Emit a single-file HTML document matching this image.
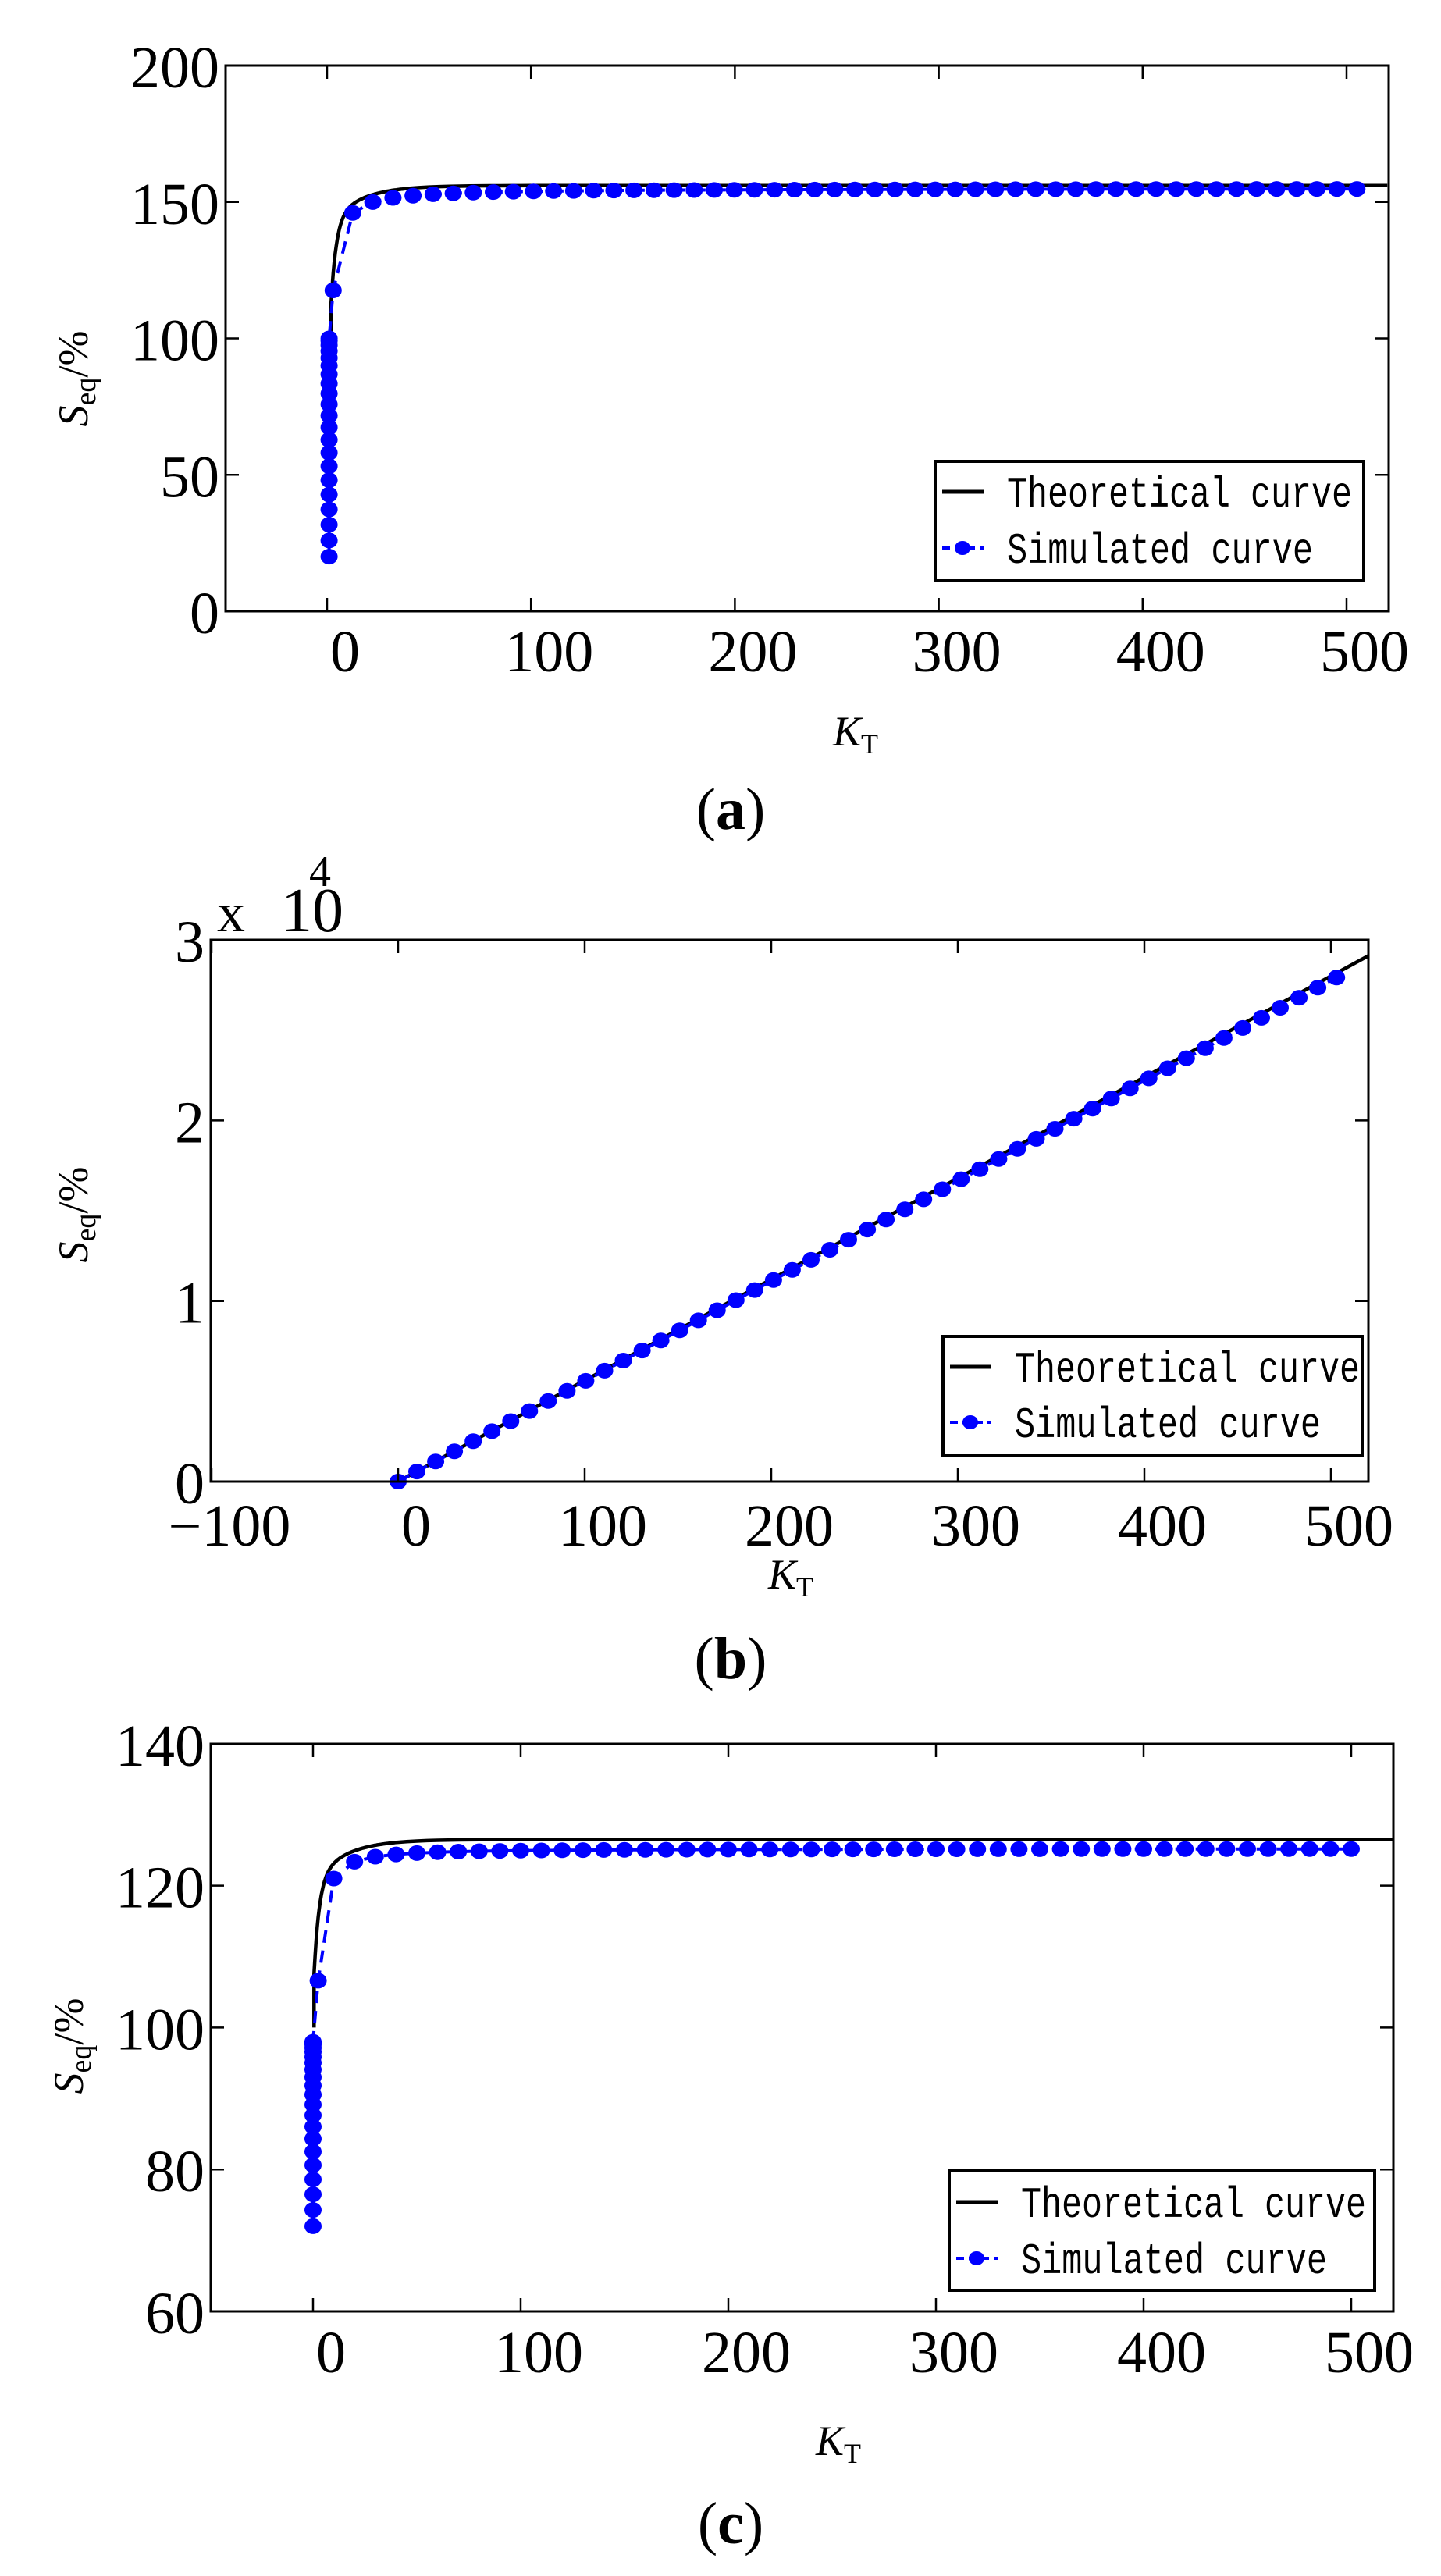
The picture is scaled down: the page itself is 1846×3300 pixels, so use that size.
<!DOCTYPE html>
<html><head><meta charset="utf-8"><style>
html,body{margin:0;padding:0;background:#fff;}
svg{display:block;}
text{font-family:"Liberation Serif",serif;fill:#000;}
.lg{font-family:"Liberation Mono",monospace;}
</style></head><body>
<svg id="s" width="1846" height="3300" xmlns="http://www.w3.org/2000/svg"></svg>
<script>
const S=document.getElementById('s');
let h='';
function ax(o){
 const X=k=>o.x0+k*o.xs, Y=v=>o.y0-(v-o.vb)*o.ys;
 let p=o.theo.map(([k,v])=>X(k).toFixed(1)+','+Y(v).toFixed(1)).join(' ');
 h+=`<polyline points="${p}" fill="none" stroke="#000" stroke-width="4.5"/>`;
 let q=o.sim.map(([k,v])=>X(k).toFixed(1)+','+Y(v).toFixed(1)).join(' ');
 h+=`<polyline points="${q}" fill="none" stroke="#0000ff" stroke-width="4" stroke-dasharray="16,10"/>`;
 for(const [k,v] of o.sim) h+=`<ellipse cx="${X(k).toFixed(1)}" cy="${Y(v).toFixed(1)}" rx="11" ry="10" fill="#0000ff"/>`;
 h+=`<rect x="${o.L}" y="${o.T}" width="${o.R-o.L}" height="${o.B-o.T}" fill="none" stroke="#000" stroke-width="3"/>`;
 for(const k of o.xt){const x=X(k);
  h+=`<line x1="${x}" y1="${o.B}" x2="${x}" y2="${o.B-17}" stroke="#000" stroke-width="2.5"/><line x1="${x}" y1="${o.T}" x2="${x}" y2="${o.T+17}" stroke="#000" stroke-width="2.5"/>`;
  h+=`<text x="${x+23}" y="${o.xly}" font-size="76" text-anchor="middle">${k<0?'\u2212'+(-k):k}</text>`;}
 for(const [v,lab] of o.yt){const y=Y(v);
  if(y>o.T+2&&y<o.B-2) h+=`<line x1="${o.L}" y1="${y}" x2="${o.L+17}" y2="${y}" stroke="#000" stroke-width="2.5"/><line x1="${o.R}" y1="${y}" x2="${o.R-17}" y2="${y}" stroke="#000" stroke-width="2.5"/>`;
  h+=`<text x="${o.L-8}" y="${y+28}" font-size="76" text-anchor="end">${lab}</text>`;}
 const g=o.lg;
 h+=`<rect x="${g.x1}" y="${g.y1}" width="${g.x2-g.x1}" height="${g.y2-g.y1}" fill="#fff" stroke="#000" stroke-width="4"/>`;
 h+=`<line x1="${g.x1+9}" y1="${g.r1}" x2="${g.x1+62}" y2="${g.r1}" stroke="#000" stroke-width="5"/>`;
 h+=`<line x1="${g.x1+9}" y1="${g.r2}" x2="${g.x1+62}" y2="${g.r2}" stroke="#0000ff" stroke-width="4" stroke-dasharray="10,6"/><ellipse cx="${g.x1+35}" cy="${g.r2}" rx="10" ry="9" fill="#0000ff"/>`;
 h+=`<text class="lg" x="${g.x1+92}" y="${g.r1+19}" font-size="56" textLength="442" lengthAdjust="spacingAndGlyphs">Theoretical curve</text>`;
 h+=`<text class="lg" x="${g.x1+92}" y="${g.r2+19}" font-size="56" textLength="392" lengthAdjust="spacingAndGlyphs">Simulated curve</text>`;
 h+=`<text transform="translate(${o.ylx},${o.yly}) rotate(-90)" font-size="54" text-anchor="middle"><tspan font-style="italic">S</tspan><tspan font-size="38" dy="10">eq</tspan><tspan dy="-10">/%</tspan></text>`;
 h+=`<text x="${o.kx}" y="${o.ky}" font-size="54" text-anchor="middle"><tspan font-style="italic">K</tspan><tspan font-size="36" dy="10">T</tspan></text>`;
 h+=`<text x="936" y="${o.cy}" font-size="76" text-anchor="middle">(<tspan font-weight="bold">${o.c}</tspan>)</text>`;
}
let ta=[[2,100]];for(let k=2;k<=520;k+=(k<40?0.5:5))ta.push([k,156-30*Math.exp(-(k-2)/2.5)-13*Math.exp(-(k-2)/15)]);
let sa=[];for(let i=0;i<=20;i++)sa.push([1,100-80*Math.pow(1-i/20,1.5)]);
sa.push([3,117.6]);for(let i=0;i<=50;i++){const k=12.6+i*9.85;sa.push([k,155-9*(12.6/k)]);}
ax({L:289,R:1779,T:84,B:783,x0:419,xs:2.612,y0:783,vb:0,ys:3.495,xt:[0,100,200,300,400,500],xly:860,
 yt:[[0,'0'],[50,'50'],[100,'100'],[150,'150'],[200,'200']],theo:ta,sim:sa,
 lg:{x1:1198,y1:591,x2:1747,y2:744,r1:630,r2:702},ylx:112,yly:485,kx:1096,ky:955,cy:1062,c:'a'});
let tb=[[0,0],[520,520*56]];let sb=[];for(let i=0;i<=50;i++){const k=i*10.06;sb.push([k,k*55.5]);}
ax({L:270,R:1753,T:1204,B:1898,x0:510,xs:2.39,y0:1898,vb:0,ys:0.02313,xt:[-100,0,100,200,300,400,500],xly:1980,
 yt:[[0,'0'],[10000,'1'],[20000,'2'],[30000,'3']],theo:tb,sim:sb,
 lg:{x1:1208,y1:1712,x2:1745,y2:1865,r1:1751,r2:1822},ylx:112,yly:1556,kx:1013,ky:2035,cy:2150,c:'b'});
h+=`<text x="278" y="1193" font-size="72">x</text><text x="360" y="1193" font-size="80">10</text><text x="396" y="1135" font-size="56">4</text>`;
let tc=[[0.5,100]];for(let k=0.5;k<=520;k+=(k<40?0.5:5))tc.push([k,126.5-16*Math.exp(-k/2.5)-6*Math.exp(-k/15)]);
let sc=[];for(let i=0;i<=20;i++)sc.push([0,98-26*Math.pow(1-i/20,1.8)]);
sc.push([2.5,106.6]);for(let i=1;i<=50;i++){const k=i*10;sc.push([k,125.2-4.2*Math.pow(10/k,1.2)]);}
ax({L:270,R:1785,T:2234,B:2961,x0:401,xs:2.66,y0:2961,vb:60,ys:9.09,xt:[0,100,200,300,400,500],xly:3039,
 yt:[[60,'60'],[80,'80'],[100,'100'],[120,'120'],[140,'140']],theo:tc,sim:sc,
 lg:{x1:1216,y1:2781,x2:1761,y2:2934,r1:2821,r2:2893},ylx:106,yly:2621,kx:1074,ky:3145,cy:3258,c:'c'});
S.innerHTML=h;
</script>
</body></html>
